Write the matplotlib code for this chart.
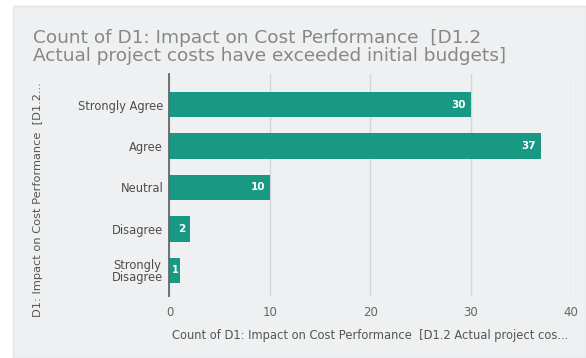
import matplotlib
matplotlib.use("Agg")
import matplotlib.pyplot as plt
from matplotlib.patches import Rectangle

plt.rcParams['font.family'] = ['DejaVu Sans']

categories = ["Strongly Agree", "Agree", "Neutral", "Disagree", "Strongly\nDisagree"]
counts = [30, 37, 10, 2, 1]
x_ticks = [0, 10, 20, 30, 40]

title = "Count of D1: Impact on Cost Performance  [D1.2\nActual project costs have exceeded initial budgets]"
x_label = "Count of D1: Impact on Cost Performance  [D1.2 Actual project cos..."
y_label = "D1: Impact on Cost Performance  [D1.2..."

W, H = 586, 358
fig = plt.figure(figsize=(W / 100, H / 100), dpi=100)
fig.patch.set_facecolor("white")

# card background
panel = Rectangle((13 / W, 0), 1 - 13 / W, 1 - 6 / H, transform=fig.transFigure,
                  facecolor="#eef0f1", edgecolor="#e2e4e5", linewidth=1.0, zorder=-5)
fig.patches.append(panel)

ax_left, ax_right = 169.5 / W, 571 / W
ax_top, ax_bot = 1 - 74 / H, 1 - 296 / H
ax = fig.add_axes([ax_left, ax_bot, ax_right - ax_left, ax_top - ax_bot])
ax.set_zorder(2)
ax.set_facecolor("none")

bar_color = "#199883"
ypos = list(range(len(categories)))
ax.barh(ypos, counts, height=0.61, color=bar_color, zorder=3)

# value labels inside the bar ends; very short bars get a centred label
for y, v in zip(ypos, counts):
    if v < 2:
        ax.text(v / 2 + 0.1, y, str(v), ha="center", va="center", color="white",
                fontsize=7, fontweight="bold", zorder=6)
    else:
        ax.text(v - 0.45, y, str(v), ha="right", va="center", color="white",
                fontsize=7.5, fontweight="bold", zorder=6)

ax.set_xlim(0, 40)
ax.set_ylim(4.62, -0.74)
ax.set_xticks(x_ticks)
ax.set_xticklabels([str(t) for t in x_ticks], fontsize=8.5, color="#666666")
ax.set_yticks(ypos)
ax.set_yticklabels(categories, fontsize=8.3, color="#4d4d4d", linespacing=0.95,
                   multialignment="center")
ax.tick_params(axis="both", length=0)
ax.tick_params(axis="y", pad=4.5)
ax.tick_params(axis="x", pad=7)

ax.grid(axis="x", color="#d4d6d8", linewidth=1.0, zorder=1)
for s in ["top", "right", "bottom"]:
    ax.spines[s].set_visible(False)
ax.spines["left"].set_color("#5c6b68")
ax.spines["left"].set_linewidth(1.3)
ax.spines["left"].set_zorder(5)

fig.text(370 / W, 1 - 336 / H, x_label, ha="center", va="center",
         fontsize=8.3, color="#555555")
fig.text(38 / W, 1 - 200 / H, y_label, ha="center", va="center",
         rotation=90, fontsize=8.2, color="#555555")
fig.text(33 / W, 1 - 47 / H, title, ha="left", va="center",
         fontsize=13.3, color="#878787", linespacing=0.98)

fig.savefig("out.png", dpi=100)
